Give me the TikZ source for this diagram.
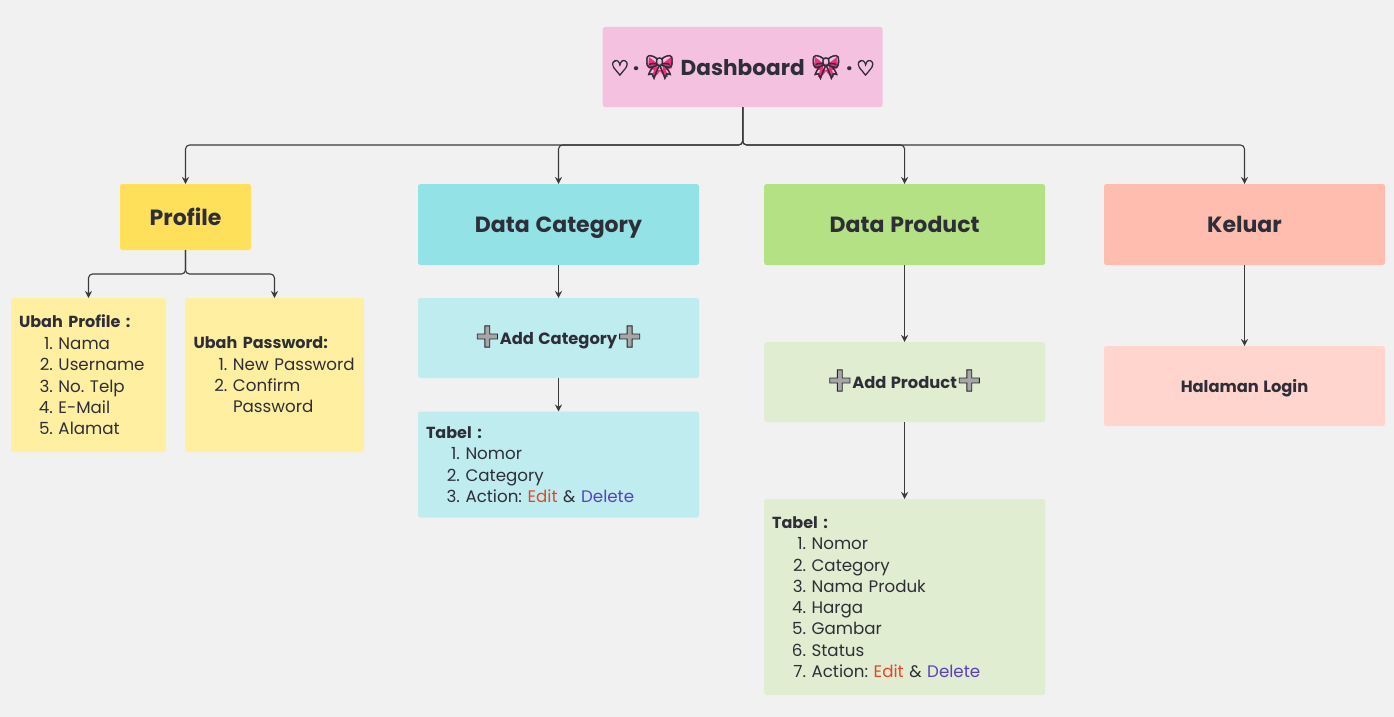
\documentclass[tikz,border=0pt]{standalone}
\usepackage{fontspec}
\setmainfont{Poppins}[WordSpace=0.85,BoldFeatures={WordSpace=1.25}]
\newfontfamily\emojifont{Noto Emoji}
\newfontfamily\symfont{DejaVu Sans}
\usetikzlibrary{arrows.meta}
\definecolor{bgc}{HTML}{F1F1F1}
\definecolor{ink}{HTML}{2E2E38}
\definecolor{linec}{HTML}{3A3A3A}
\definecolor{pinkb}{HTML}{F5C1E1}
\definecolor{yel}{HTML}{FFE05A}
\definecolor{yell}{HTML}{FFEFA1}
\definecolor{cyn}{HTML}{93E2E6}
\definecolor{cynl}{HTML}{BFECEF}
\definecolor{grn}{HTML}{B3E184}
\definecolor{grnl}{HTML}{E0EDD0}
\definecolor{sal}{HTML}{FFBDB0}
\definecolor{sall}{HTML}{FFD5CE}
\definecolor{redt}{HTML}{E5452B}
\definecolor{purt}{HTML}{5B3FC0}
\definecolor{bowc}{HTML}{EE2F80}
\definecolor{bowk}{HTML}{FF9CC4}
\definecolor{plusc}{HTML}{A6A6A6}
\frenchspacing
\newcommand{\li}[2]{\mbox{\makebox[34pt][r]{#1}\hspace{5.5pt}#2}}
\newcommand{\hd}[1]{\vspace*{2pt}\raisebox{-1.6pt}{\fontsize{16}{21.3}\selectfont\bfseries #1}}
\newcommand{\bow}{{\emojifont\fontsize{24}{24}\selectfont\textcolor{ink}{\special{pdf:code q 2 Tr 0.5 w}🎀\special{pdf:code Q}}}}
\newcommand{\plusg}{{\emojifont\fontsize{22}{22}\selectfont\textcolor{plusc}{\special{pdf:code q 2 Tr 0.9 w 0.15 G}➕\special{pdf:code Q}}}}
\newcommand{\hrt}{{\symfont\fontsize{21}{21}\selectfont\special{pdf:code q 2 Tr 0.7 w}♡\special{pdf:code Q}}}
\tikzset{
  x=1pt,y=-1pt,
  boxn/.style={draw=none,rounded corners=2.5pt,inner sep=0pt,outer sep=0pt,text=ink},
  head/.style={boxn,font=\fontsize{22}{28}\selectfont\bfseries,text height=21pt,text depth=5pt},
  sub/.style={boxn,font=\fontsize{16.3}{21}\selectfont\bfseries,text height=16pt,text depth=4pt},
  listn/.style={boxn,font=\fontsize{16.7}{21.3}\selectfont,align=left},
  conn/.style={draw=linec,line width=1.1pt,rounded corners=4pt,-{Stealth[length=7pt,width=7pt]}},
  bowshape/.pic={
    \fill[bowc] (-2,-3) -- (-11,-10) -- (-12,1) -- (-6,3) -- (-8,10) -- (-3,8) -- (0,4) -- (3,8) -- (8,10) -- (6,3) -- (12,1) -- (11,-10) -- (2,-3) -- cycle;
    \fill[bowk] (-3,-4) rectangle (3,3);
  },
}
\begin{document}
\begin{tikzpicture}
\useasboundingbox (0,0) rectangle (1394,717);
\fill[bgc] (0,0) rectangle (1394,717);
\node[boxn,fill=pinkb,minimum width=280pt,minimum height=80pt] (dash) at (742.7,67) {};
\pic at (660,67) {bowshape};
\pic at (826,67) {bowshape};
\node[head,font=\fontsize{21.6}{28}\selectfont\bfseries,text height=22pt] (dashlabel) at (dash.center) {\hrt\hspace{3.5pt}·\hspace{5pt}\bow\hspace{6pt}Dashboard\hspace{6pt}\bow\hspace{5pt}·\hspace{3.5pt}\hrt};
\node[head,fill=yel,minimum width=131pt,minimum height=66pt] (prof) at (185.5,217) {Profile};
\node[head,fill=cyn,minimum width=281pt,minimum height=81pt] (dcat) at (558.5,224.5) {Data Category};
\node[head,fill=grn,minimum width=281pt,minimum height=81pt] (dprod) at (904.6,224.5) {Data Product};
\node[head,fill=sal,minimum width=281pt,minimum height=81pt] (kel) at (1244.5,224.5) {Keluar};
\node[listn,fill=yell,minimum width=155pt,minimum height=154pt,text width=139pt] (up) at (88.5,375) {\hd{Ubah Profile :}\\\li{1.}{Nama}\\\li{2.}{Username}\\\li{3.}{No. Telp}\\\li{4.}{E-Mail}\\\li{5.}{Alamat}};
\node[listn,fill=yell,minimum width=179pt,minimum height=154pt,text width=162pt] (upw) at (274.5,375) {\hd{Ubah Password:}\\\li{1.}{New Password}\\\li{2.}{Confirm}\\\li{}{Password}};
\node[sub,fill=cynl,minimum width=281pt,minimum height=80pt] (acat) at (558.5,338) {\plusg\hspace{-1.5pt}Add Category\hspace{-1.5pt}\plusg};
\node[listn,fill=cynl,minimum width=281pt,minimum height=106pt,text width=265pt] (tcat) at (558.5,464.5) {\hd{Tabel :}\\\li{1.}{Nomor}\\\li{2.}{Category}\\\li{3.}{Action: \textcolor{redt}{Edit} \& \textcolor{purt}{Delete}}};
\node[sub,fill=grnl,minimum width=281pt,minimum height=80pt] (aprod) at (904.6,382) {\plusg\hspace{-1.5pt}Add Product\hspace{-1.5pt}\plusg};
\node[listn,fill=grnl,minimum width=281pt,minimum height=196pt,text width=265pt] (tprod) at (904.6,597) {\hd{Tabel :}\\\li{1.}{Nomor}\\\li{2.}{Category}\\\li{3.}{Nama Produk}\\\li{4.}{Harga}\\\li{5.}{Gambar}\\\li{6.}{Status}\\\li{7.}{Action: \textcolor{redt}{Edit} \& \textcolor{purt}{Delete}}};
\node[sub,fill=sall,minimum width=281pt,minimum height=80pt] (hal) at (1244.5,386) {Halaman Login};
\coordinate (bus) at (742.7,145);
\coordinate (pbus) at (185.5,274);
\draw[conn] (dash.south) -- (bus) -| (prof.north);
\draw[conn] (dash.south) -- (bus) -| (dcat.north);
\draw[conn] (dash.south) -- (bus) -| (dprod.north);
\draw[conn] (dash.south) -- (bus) -| (kel.north);
\draw[conn] (prof.south) -- (pbus) -| (up.north);
\draw[conn] (prof.south) -- (pbus) -| (upw.north);
\draw[conn] (dcat.south) -- (acat.north);
\draw[conn] (acat.south) -- (tcat.north);
\draw[conn] (dprod.south) -- (aprod.north);
\draw[conn] (aprod.south) -- (tprod.north);
\draw[conn] (kel.south) -- (hal.north);
\end{tikzpicture}
\end{document}
